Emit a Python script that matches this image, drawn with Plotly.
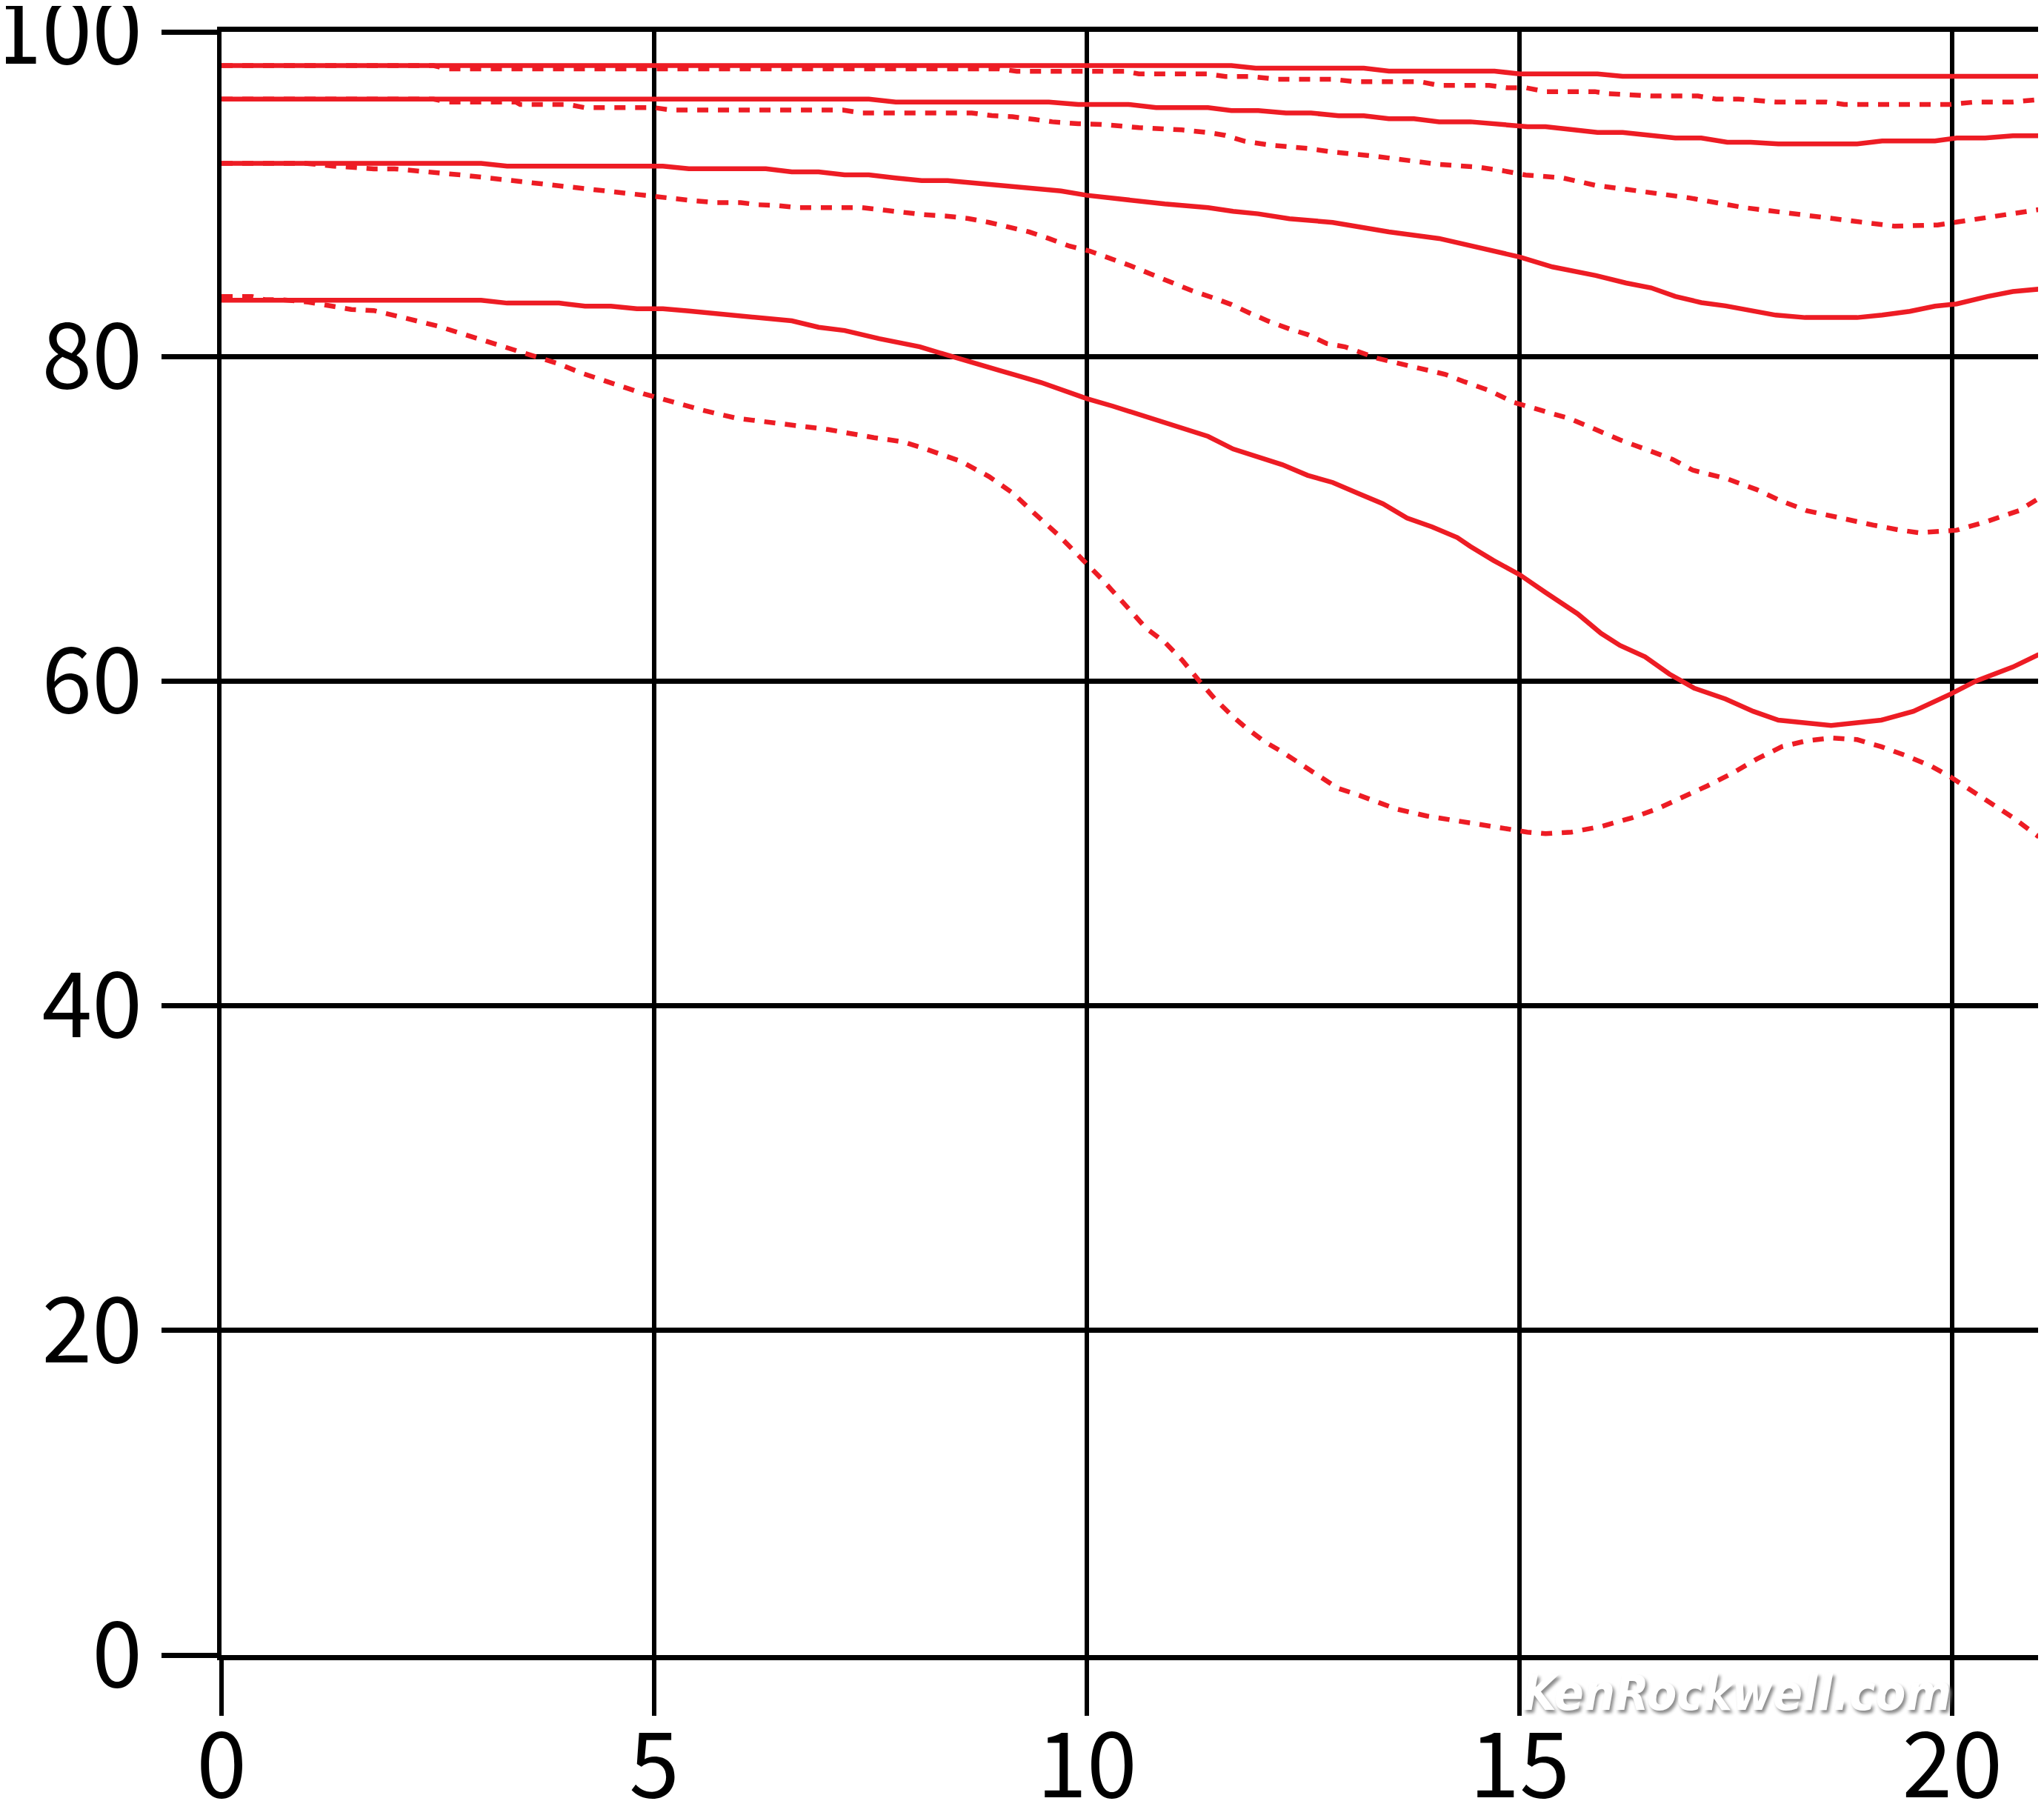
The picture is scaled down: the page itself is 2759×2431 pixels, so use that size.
import plotly.graph_objects as go

# ---- data ----
x_ticks = [0, 5, 10, 15, 20]
y_ticks = [0, 20, 40, 60, 80, 100]

s1_x = [0, 11.67, 11.95, 13.2, 13.49, 14.71, 15.0, 15.9, 16.19, 21]
s1_y = [97.92, 97.92, 97.76, 97.76, 97.58, 97.58, 97.41, 97.41, 97.26, 97.26]

d1_x = [0, 2.45, 2.6, 8.98, 9.19, 10.45, 10.6, 11.4, 11.6, 11.9, 12.2, 12.84, 13.1, 13.85,
        14.07, 14.65, 14.86, 15.08, 15.3, 15.87, 16.0, 16.3, 16.52, 17.06, 17.27, 17.53,
        17.96, 18.54, 18.75, 19.98, 20.27, 20.7, 21.0]
d1_y = [97.92, 97.92, 97.72, 97.72, 97.57, 97.57, 97.41, 97.41, 97.25, 97.25, 97.08, 97.08,
        96.93, 96.93, 96.7, 96.7, 96.55, 96.55, 96.32, 96.32, 96.2, 96.1, 96.05, 96.05,
        95.86, 95.86, 95.68, 95.68, 95.53, 95.53, 95.68, 95.68, 95.83]

s2_x = [0, 7.48, 7.79, 9.56, 9.9, 10.48, 10.8, 11.4, 11.67, 11.98, 12.3, 12.59, 12.91, 13.2,
        13.49, 13.78, 14.07, 14.43, 15.09, 15.3, 15.9, 16.19, 16.8, 17.1, 17.4, 17.67,
        17.99, 18.9, 19.19, 19.8, 20.05, 20.38, 20.7, 21]
s2_y = [95.86, 95.86, 95.68, 95.68, 95.53, 95.53, 95.33, 95.33, 95.15, 95.15, 95.0, 95.0,
        94.83, 94.83, 94.65, 94.65, 94.46, 94.46, 94.16, 94.16, 93.8, 93.8, 93.46, 93.46,
        93.2, 93.2, 93.1, 93.1, 93.28, 93.28, 93.46, 93.46, 93.6, 93.6]

d2_x = [0, 2.45, 2.6, 3.4, 3.45, 4.0, 4.2, 5.0, 5.2, 7.18, 7.4, 8.67, 8.9, 9.14, 9.4, 9.6,
        9.9, 10.17, 10.6, 11.1, 11.4, 11.6, 11.83, 12.12, 12.55, 12.84, 13.28, 13.57, 13.86,
        14.07, 14.5, 14.8, 15.07, 15.5, 15.88, 16.23, 16.52, 16.95, 17.6, 17.96, 18.4,
        18.82, 19.33, 19.83, 20.1, 20.55, 21.0]
d2_y = [95.86, 95.86, 95.68, 95.68, 95.53, 95.53, 95.33, 95.33, 95.18, 95.18, 95.0, 95.0,
        94.84, 94.77, 94.6, 94.46, 94.34, 94.3, 94.1, 93.96, 93.8, 93.62, 93.25, 93.02,
        92.82, 92.6, 92.37, 92.2, 91.98, 91.83, 91.68, 91.45, 91.18, 91.0, 90.54, 90.3,
        90.08, 89.78, 89.17, 88.94, 88.64, 88.33, 88.03, 88.1, 88.33, 88.64, 89.05]

s3_x = [0, 3.0, 3.3, 5.1, 5.4, 6.29, 6.59, 6.9, 7.2, 7.48, 7.79, 8.09, 8.39, 9.0, 9.7, 10.0,
        10.46, 10.9, 11.4, 11.69, 11.98, 12.34, 12.84, 13.2, 13.49, 14.07, 14.43, 15.0,
        15.38, 15.88, 16.23, 16.52, 16.8, 17.1, 17.38, 17.7, 17.96, 18.3, 18.9, 19.19,
        19.51, 19.8, 20.05, 20.41, 20.7, 21]
s3_y = [91.9, 91.9, 91.73, 91.73, 91.57, 91.57, 91.37, 91.37, 91.19, 91.19, 91.0, 90.84,
        90.84, 90.54, 90.2, 89.93, 89.63, 89.4, 89.17, 88.94, 88.79, 88.49, 88.26, 87.92,
        87.68, 87.27, 86.81, 86.13, 85.52, 84.99, 84.53, 84.23, 83.7, 83.32, 83.12, 82.78,
        82.55, 82.4, 82.4, 82.55, 82.78, 83.1, 83.24, 83.7, 84.0, 84.15]

d3_x = [0, 0.97, 1.29, 1.52, 1.76, 2.0, 2.27, 2.5, 2.78, 3.0, 3.25, 3.5, 3.76, 4.0, 4.23,
        4.47, 4.7, 5.0, 5.2, 5.45, 5.72, 6.0, 6.2, 6.43, 6.66, 7.4, 7.65, 7.88, 8.1, 8.4,
        8.63, 8.87, 9.1, 9.33, 9.56, 9.8, 10.03, 10.27, 10.5, 10.73, 10.97, 11.2, 11.44,
        11.67, 11.9, 12.1, 12.34, 12.55, 12.77, 12.98, 13.35, 13.78, 14.14, 14.35, 14.65,
        14.94, 15.23, 15.58, 15.87, 16.16, 16.45, 16.77, 17.0, 17.4, 17.74, 18.0, 18.32,
        18.68, 19.1, 19.4, 19.62, 20.05, 20.4, 20.77, 21.0]
d3_y = [91.9, 91.9, 91.73, 91.65, 91.56, 91.56, 91.45, 91.35, 91.18, 91.05, 90.9, 90.75,
        90.6, 90.5, 90.3, 90.17, 90.05, 89.9, 89.75, 89.6, 89.48, 89.48, 89.35, 89.3, 89.17,
        89.17, 89.02, 88.87, 88.75, 88.64, 88.5, 88.26, 87.98, 87.68, 87.27, 86.8, 86.5,
        86.05, 85.6, 85.1, 84.55, 84.08, 83.65, 83.2, 82.63, 82.17, 81.7, 81.35, 80.8,
        80.6, 79.9, 79.34, 78.9, 78.47, 77.9, 77.16, 76.7, 76.17, 75.52, 74.86, 74.3,
        73.66, 73.0, 72.46, 71.8, 71.15, 70.5, 70.05, 69.6, 69.3, 69.14, 69.3, 69.84,
        70.5, 71.26]

s4_x = [0, 3.0, 3.3, 3.9, 4.2, 4.5, 4.8, 5.1, 5.4, 5.72, 6.0, 6.29, 6.59, 6.9, 7.2, 7.6,
        8.07, 8.39, 8.67, 9.0, 9.47, 10.0, 10.3, 10.75, 11.1, 11.4, 11.69, 11.98, 12.26,
        12.55, 12.84, 13.13, 13.42, 13.7, 13.99, 14.28, 14.43, 14.7, 15.0, 15.3, 15.67,
        15.94, 16.16, 16.45, 16.73, 17.02, 17.38, 17.7, 17.99, 18.6, 19.18, 19.55, 19.98,
        20.27, 20.7, 21.0]
s4_y = [83.47, 83.47, 83.29, 83.29, 83.1, 83.1, 82.94, 82.94, 82.8, 82.65, 82.5, 82.4,
        82.2, 81.8, 81.6, 81.1, 80.6, 80.08, 79.67, 79.13, 78.4, 77.4, 76.94, 76.17, 75.63,
        75.08, 74.3, 73.77, 73.33, 72.68, 72.24, 71.58, 70.93, 70.05, 69.5, 68.85, 68.3,
        67.43, 66.56, 65.46, 64.15, 62.95, 62.2, 61.5, 60.44, 59.56, 58.9, 58.14, 57.6,
        57.27, 57.6, 58.14, 59.2, 60.0, 60.87, 61.64]

d4_x = [0, 0.35, 0.5, 0.7, 1.0, 1.29, 1.5, 1.76, 2.0, 2.25, 2.5, 2.72, 2.95, 3.19, 3.43,
        3.66, 3.89, 4.15, 4.55, 4.88, 5.15, 5.55, 5.95, 6.48, 7.01, 7.54, 7.87, 8.14, 8.54,
        8.87, 9.14, 9.4, 9.67, 9.96, 10.17, 10.46, 10.68, 10.9, 11.1, 11.3, 11.48, 11.69,
        11.83, 12.05, 12.26, 12.48, 12.7, 12.9, 13.13, 13.35, 13.57, 13.93, 14.28, 14.72,
        15.09, 15.3, 15.6, 15.94, 16.3, 16.59, 16.88, 17.17, 17.45, 17.74, 18.03, 18.32,
        18.6, 18.9, 19.18, 19.47, 19.76, 19.98, 20.2, 20.41, 20.7, 21.0]
d4_y = [83.7, 83.7, 83.5, 83.5, 83.35, 83.1, 82.9, 82.83, 82.55, 82.2, 81.87, 81.5, 81.1,
        80.7, 80.3, 79.95, 79.56, 79.0, 78.25, 77.7, 77.3, 76.7, 76.2, 75.85, 75.5, 75.0,
        74.75, 74.3, 73.55, 72.6, 71.6, 70.3, 69.0, 67.43, 66.3, 64.6, 63.28, 62.4, 61.3,
        60.0, 58.9, 57.8, 57.16, 56.28, 55.63, 54.86, 54.1, 53.4, 53.0, 52.57, 52.13, 51.69,
        51.37, 51.0, 50.7, 50.6, 50.7, 51.04, 51.58, 52.13, 52.8, 53.55, 54.3, 55.2, 55.96,
        56.33, 56.5, 56.4, 55.96, 55.4, 54.75, 54.1, 53.33, 52.57, 51.6, 50.4]

series = [
    (d1_x, d1_y, "dot"), (d2_x, d2_y, "dot"), (d3_x, d3_y, "dot"), (d4_x, d4_y, "dot"),
    (s1_x, s1_y, "solid"), (s2_x, s2_y, "solid"), (s3_x, s3_y, "solid"), (s4_x, s4_y, "solid"),
]

RED = "#ED1C24"
fig = go.Figure()
for xs, ys, kind in series:
    fig.add_trace(go.Scatter(
        x=xs, y=ys, mode="lines",
        line=dict(color=RED, width=6.5, dash=("15px,13px" if kind == "dot" else "solid")),
        hoverinfo="skip", showlegend=False,
    ))

# the page body has an 8px default margin, so the figure is made 8px smaller
OFF = 8
W, H = 2759 - OFF, 2431 - OFF
L, R, T, B = 299 - OFF, 7, 43 - OFF, 197
tick_font = dict(family="Noto Sans CJK JP, Noto Sans, sans-serif", size=122, color="black")

fig.update_layout(
    template="none",
    width=W, height=H,
    margin=dict(l=L, r=R, t=T, b=B, pad=0, autoexpand=False),
    paper_bgcolor="white", plot_bgcolor="white",
    showlegend=False,
    xaxis=dict(
        range=[0, 21], tickmode="array", tickvals=x_ticks, ticktext=[str(v) for v in x_ticks],
        showgrid=True, gridcolor="black", gridwidth=5.5,
        ticks="outside", ticklen=75, tickwidth=5.5, tickcolor="black",
        showline=True, linecolor="black", linewidth=6.5, mirror=True,
        zeroline=False, tickfont=tick_font, ticklabelstandoff=-36,
        ticklabeloverflow="allow", automargin=False, fixedrange=True,
    ),
    yaxis=dict(
        range=[0, 100], tickmode="array", tickvals=y_ticks, ticktext=[str(v) for v in y_ticks],
        showgrid=True, gridcolor="black", gridwidth=6.5,
        ticks="outside", ticklen=75, tickwidth=6.5, tickcolor="black",
        showline=True, linecolor="black", linewidth=5.5, mirror=True,
        zeroline=False, tickfont=tick_font, ticklabelstandoff=2,
        ticklabeloverflow="allow", automargin=False, fixedrange=True,
    ),
    annotations=[dict(
        text="<b><i>KenRockwell.com</i></b>",
        xref="paper", yref="paper", x=0.8337, y=-0.0235,
        xanchor="center", yanchor="middle", showarrow=False,
        font=dict(family="Liberation Sans Narrow, DejaVu Sans Condensed, sans-serif",
                  size=66, color="white", shadow="3px 4px 4px #8a8a8a"),
    )],
)

fig.write_html("out.html", config={"displayModeBar": False})
